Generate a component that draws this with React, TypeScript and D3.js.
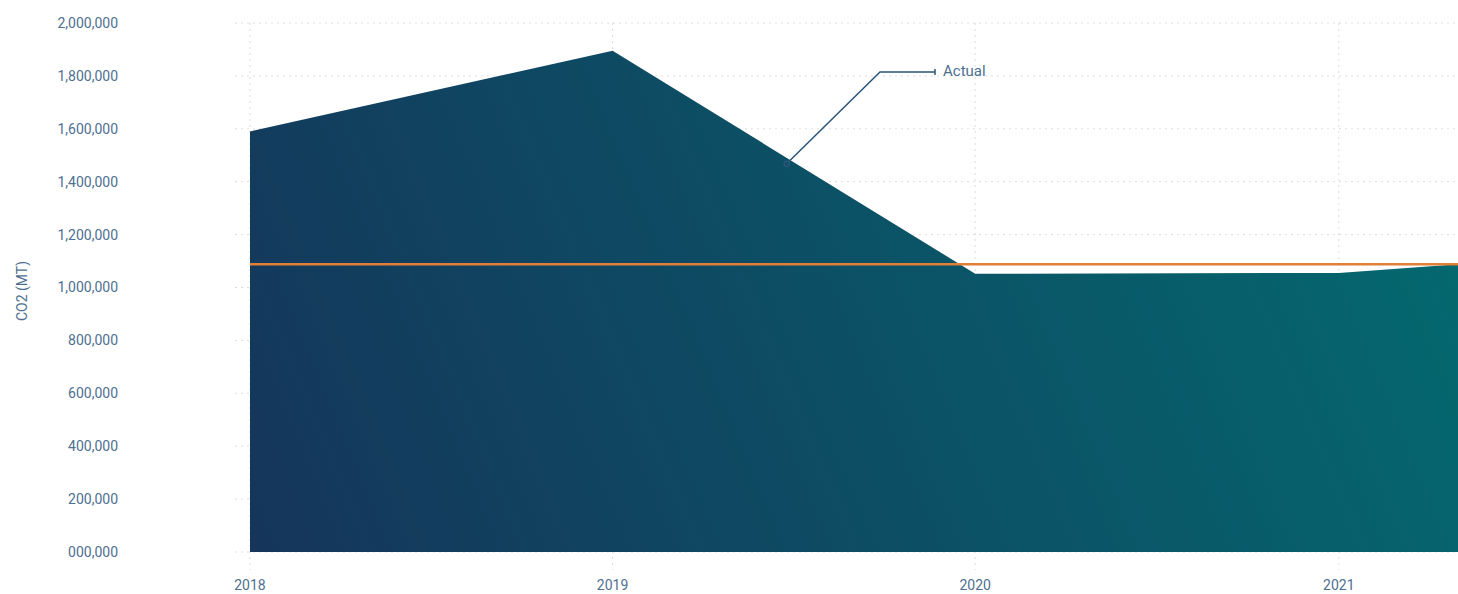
import React from "react";
import * as d3 from "d3";

const dates = ["2018-01-01", "2019-01-01", "2020-01-01", "2021-01-01", "2021-05-01"];
const actual = [1590000, 1895000, 1052000, 1055000, 1088000];
const targetValue = 1088000;
const yTicks = [0, 200000, 400000, 600000, 800000, 1000000, 1200000, 1400000, 1600000, 1800000, 2000000];
const xTickYears = ["2018", "2019", "2020", "2021"];

const W = 1458;
const H = 594;

export default function App() {
  const parse = d3.utcParse("%Y-%m-%d");
  const pts = dates.map((d, i) => ({ date: parse(d)!, value: actual[i] }));
  const x = d3.scaleUtc().domain([pts[0].date, pts[pts.length - 1].date]).range([250, 1458]);
  const y = d3.scaleLinear().domain([0, 2000000]).range([552, 23]);
  const fmt = d3.format("07,");
  const area = d3.area<any>().x((d) => x(d.date)).y0(y(0)).y1((d) => y(d.value));
  const textColor = "#4e7090";
  const gridColor = "#dcdcdc";

  // annotation anchor on the 2019-2020 segment
  const a0 = pts[1], a1 = pts[2];
  const t = 0.48;
  const ax = x(a0.date) + (x(a1.date) - x(a0.date)) * t;
  const ay = y(a0.value) + (y(a1.value) - y(a0.value)) * t + 6;
  const elbowX = 880, elbowY = 72, endX = 935;

  return (
    <svg width={W} height={H} style={{ position: "absolute", left: 0, top: 0, fontFamily: "Roboto, sans-serif" }}>
      <defs>
        <linearGradient id="areaGrad" gradientUnits="userSpaceOnUse" x1={250} y1={552} x2={1380} y2={80}>
          <stop offset="0%" stopColor="#15355a" />
          <stop offset="100%" stopColor="#04686f" />
        </linearGradient>
      </defs>
      {yTicks.map((v) => (
        <line key={"h" + v} x1={235} x2={W} y1={y(v)} y2={y(v)} stroke={gridColor} strokeWidth={1} strokeDasharray="2,4" />
      ))}
      {xTickYears.map((yr) => {
        const xx = x(parse(yr + "-01-01")!);
        return <line key={"v" + yr} x1={xx} x2={xx} y1={23} y2={570} stroke={gridColor} strokeWidth={1} strokeDasharray="2,4" />;
      })}
      <path d={area(pts) || ""} fill="url(#areaGrad)" />
      <line x1={250} x2={W} y1={y(targetValue)} y2={y(targetValue)} stroke="#e07f35" strokeWidth={2.5} />
      {yTicks.map((v) => (
        <text key={"yt" + v} x={118} y={y(v)} dy="0.35em" textAnchor="end" fontSize={14} fill={textColor}>
          {fmt(v)}
        </text>
      ))}
      {xTickYears.map((yr) => (
        <text key={"xt" + yr} x={x(parse(yr + "-01-01")!)} y={590} textAnchor="middle" fontSize={14} fill={textColor}>
          {yr}
        </text>
      ))}
      <text transform={`translate(27,291) rotate(-90)`} textAnchor="middle" fontSize={14} fill={textColor}>
        CO2 (MT)
      </text>
      <g stroke="#2b5578" strokeWidth={1.5} fill="none">
        <circle cx={ax} cy={ay} r={2.5} />
        <polyline points={`${ax + 2},${ay - 2} ${elbowX},${elbowY} ${endX},${elbowY}`} />
        <line x1={endX} x2={endX} y1={elbowY - 3} y2={elbowY + 3} />
      </g>
      <text x={943} y={elbowY - 1} dy="0.35em" fontSize={15} fill={textColor}>
        Actual
      </text>
    </svg>
  );
}
